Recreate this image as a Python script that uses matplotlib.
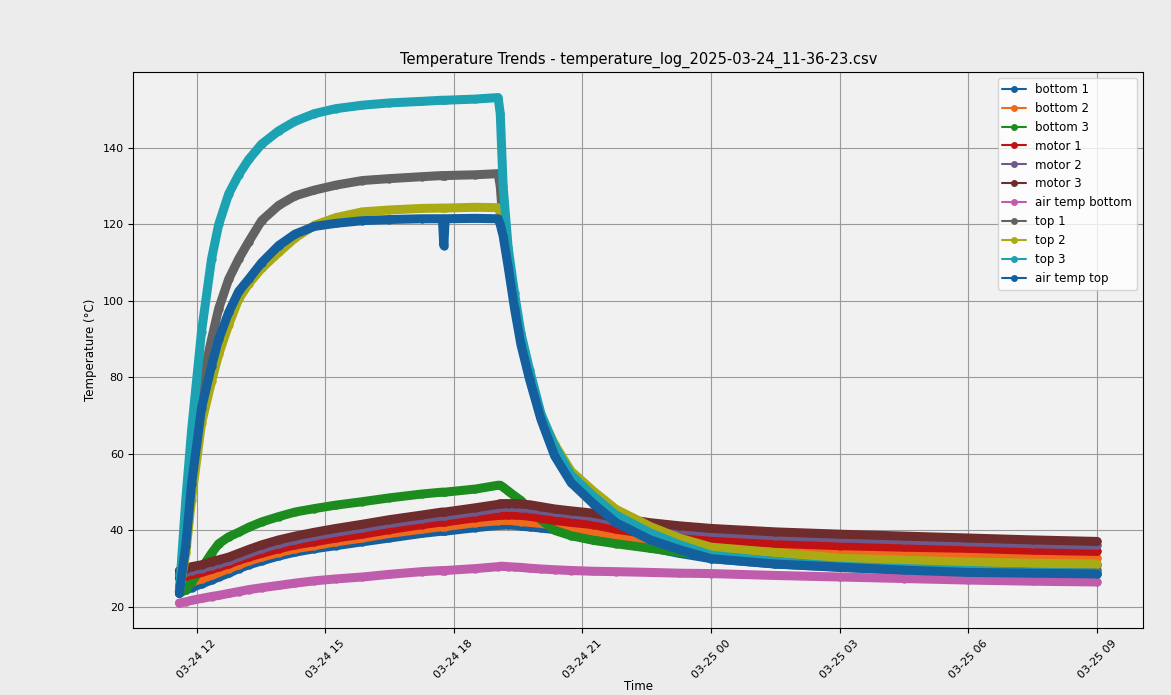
import matplotlib
matplotlib.use('Agg')
import matplotlib.pyplot as plt
import matplotlib.dates as mdates
import pandas as pd

times = ["2025-03-24 11:36", "2025-03-24 11:45", "2025-03-24 11:53", "2025-03-24 12:07",
         "2025-03-24 12:21", "2025-03-24 12:31", "2025-03-24 12:45", "2025-03-24 12:59",
         "2025-03-24 13:13", "2025-03-24 13:31", "2025-03-24 13:55", "2025-03-24 14:18",
         "2025-03-24 14:45", "2025-03-24 15:15", "2025-03-24 15:52", "2025-03-24 16:30",
         "2025-03-24 17:15", "2025-03-24 17:44", "2025-03-24 17:46", "2025-03-24 17:48",
         "2025-03-24 18:30", "2025-03-24 19:02", "2025-03-24 19:05", "2025-03-24 19:09",
         "2025-03-24 19:16", "2025-03-24 19:25", "2025-03-24 19:34", "2025-03-24 19:46",
         "2025-03-24 20:02", "2025-03-24 20:21", "2025-03-24 20:44", "2025-03-24 21:15",
         "2025-03-24 21:47", "2025-03-24 22:35", "2025-03-24 23:15", "2025-03-25 00:00",
         "2025-03-25 01:30", "2025-03-25 03:00", "2025-03-25 04:30", "2025-03-25 06:00",
         "2025-03-25 07:30", "2025-03-25 09:00"]

bottom_1 = [24.0, 24.5, 25.0, 26.0, 27.0, 27.8, 28.8, 30.0, 31.0, 32.0, 33.3,
            34.3, 35.2, 36.0, 37.0, 38.0, 39.2, 39.8, 39.8, 39.8, 40.7, 41.3,
            41.4, 41.4, 41.4, 41.3, 41.1, 40.9, 40.6, 40.2, 39.7, 39.0, 37.5, 35.5,
            34.0, 32.6, 31.2, 30.3, 29.6, 29.0, 28.8, 28.6]
bottom_2 = [25.5, 26.0, 26.5, 27.3, 28.2, 29.0, 30.0, 31.0, 32.0, 33.0, 34.2,
            35.2, 36.0, 37.0, 38.0, 39.2, 40.3, 41.0, 41.0, 41.0, 42.0, 42.5,
            42.6, 42.6, 42.6, 42.5, 42.3, 42.1, 41.8, 41.3, 40.7, 39.8, 38.8, 37.3,
            36.3, 35.5, 34.5, 34.0, 33.6, 33.3, 33.0, 32.7]
bottom_3 = [23.5, 24.5, 26.5, 30.0, 34.0, 36.5, 38.3, 39.5, 40.8, 42.2, 43.6,
            44.8, 45.7, 46.6, 47.5, 48.5, 49.5, 50.0, 50.0, 50.0, 50.8, 51.8,
            51.8, 51.3, 50.3, 49.0, 47.8, 45.5, 42.8, 40.0, 38.6, 37.4, 36.5, 35.3,
            34.3, 33.5, 32.5, 32.0, 31.7, 31.3, 31.1, 31.0]
motor_1 = [27.5, 28.0, 28.5, 29.0, 29.8, 30.4, 31.2, 32.2, 33.0, 34.0, 35.2,
           36.2, 37.0, 38.0, 39.0, 40.2, 41.5, 42.2, 42.2, 42.2, 43.3, 43.9,
           44.0, 44.0, 44.0, 44.0, 43.9, 43.7, 43.2, 42.6, 42.1, 41.5, 40.3, 39.0,
           38.2, 37.4, 36.6, 36.0, 35.6, 35.3, 34.8, 34.5]
motor_2 = [28.5, 29.0, 29.5, 30.0, 30.8, 31.3, 32.0, 33.0, 34.0, 35.2, 36.5,
           37.5, 38.5, 39.5, 40.6, 41.8, 43.0, 43.8, 43.8, 43.8, 44.9, 45.8,
           46.0, 46.0, 46.0, 46.0, 45.9, 45.7, 45.3, 44.8, 44.3, 43.6, 42.3, 41.0,
           40.2, 39.5, 38.6, 38.0, 37.5, 37.0, 36.5, 36.1]
motor_3 = [29.5, 30.0, 30.5, 31.0, 31.8, 32.3, 33.0, 34.0, 35.0, 36.2, 37.5,
           38.5, 39.5, 40.5, 41.6, 42.8, 44.0, 44.8, 44.8, 44.8, 45.9, 46.8,
           47.0, 47.0, 47.0, 47.0, 46.9, 46.7, 46.2, 45.6, 45.1, 44.5, 43.3, 42.0,
           41.2, 40.5, 39.6, 39.0, 38.5, 38.0, 37.5, 37.1]
air_temp_bottom = [21.0, 21.3, 21.7, 22.2, 22.7, 23.0, 23.5, 24.0, 24.5, 25.0, 25.6,
                   26.2, 26.8, 27.3, 27.8, 28.5, 29.2, 29.5, 29.5, 29.5, 30.0, 30.5,
                   30.6, 30.6, 30.5, 30.4, 30.3, 30.1, 29.9, 29.7, 29.5, 29.3, 29.2, 29.0,
                   28.8, 28.7, 28.2, 27.8, 27.4, 27.0, 26.7, 26.5]
top_1 = [24.0, 38.0, 55.0, 78.0, 90.0, 98.0, 105.7, 111.0, 115.5, 121.0, 125.0,
         127.5, 129.0, 130.3, 131.5, 132.0, 132.5, 132.8, 132.8, 132.8, 133.0, 133.3,
         130.0, 120.0, 110.5, 99.0, 89.5, 80.0, 69.5, 61.0, 54.0, 48.5, 43.5, 38.8,
         36.0, 33.3, 32.0, 31.0, 30.5, 30.0, 29.8, 29.6]
top_2 = [24.0, 34.0, 48.0, 68.0, 79.0, 86.0, 93.8, 100.5, 104.5, 108.5, 112.7,
         116.5, 119.8, 121.8, 123.3, 123.8, 124.2, 124.3, 124.3, 124.3, 124.5, 124.4,
         123.0, 118.0, 111.0, 99.5, 90.0, 80.5, 70.0, 62.5, 55.5, 50.3, 45.5, 41.0,
         38.0, 35.6, 34.2, 32.7, 32.2, 31.7, 31.4, 31.2]
top_3 = [24.0, 48.0, 66.0, 92.0, 111.0, 120.0, 128.0, 133.0, 137.0, 141.0, 144.5,
         147.0, 149.0, 150.3, 151.2, 151.8, 152.2, 152.5, 152.5, 152.5, 152.8, 153.2,
         149.0, 130.0, 114.0, 102.0, 91.5, 82.0, 70.5, 62.0, 54.5, 49.0, 44.0, 39.3,
         36.3, 33.5, 31.8, 30.6, 30.0, 29.5, 29.0, 28.8]
air_temp_top = [23.5, 36.0, 52.0, 72.0, 83.0, 90.0, 97.0, 102.5, 105.7, 110.0, 114.5,
                117.5, 119.5, 120.3, 121.0, 121.3, 121.5, 121.5, 114.5, 121.5, 121.6, 121.5,
                120.0, 117.0, 109.0, 98.0, 88.5, 79.5, 69.0, 59.5, 52.5, 47.0, 42.0, 37.5,
                35.0, 32.6, 31.2, 30.4, 29.6, 29.0, 28.8, 28.6]

labels = ["bottom 1", "bottom 2", "bottom 3", "motor 1", "motor 2", "motor 3",
          "air temp bottom", "top 1", "top 2", "top 3", "air temp top"]
series = [bottom_1, bottom_2, bottom_3, motor_1, motor_2, motor_3,
          air_temp_bottom, top_1, top_2, top_3, air_temp_top]
# tab10 order, a bit darker like on the photographed screen
colors = ['#14609f', '#ee6a1c', '#1c8c1e', '#c01212', '#6c5a8c', '#6e2c2c',
          '#c05cac', '#626262', '#aaab14', '#1ca2b2', '#14609f']

t = pd.to_datetime(times)

fig, ax = plt.subplots(figsize=(11.71, 6.95), dpi=100, facecolor='#ececec')
ax.set_facecolor('#f1f1f1')
plt.subplots_adjust(left=0.114, right=0.976, top=0.896, bottom=0.096)

for name, vals, c in zip(labels, series, colors):
    ax.plot(t, vals, 'o-', label=name, color=c, linewidth=6.5, markersize=6,
            markeredgewidth=0, solid_joinstyle='round', solid_capstyle='round')

ax.xaxis.set_major_locator(mdates.HourLocator(byhour=range(0, 24, 3)))
ax.xaxis.set_major_formatter(mdates.DateFormatter('%m-%d %H'))
plt.xticks(rotation=45)
ax.tick_params(labelsize=8)

ax.set_title("Temperature Trends - temperature_log_2025-03-24_11-36-23.csv", fontsize=10.5)
ax.set_xlabel("Time", fontsize=8.5, labelpad=0)
ax.set_ylabel("Temperature (°C)", fontsize=8.5)
ax.grid(True, color='#9a9a9a')

leg = ax.legend(loc='upper right', fontsize=8.5)
for h in leg.get_lines():
    h.set_linewidth(1.5)
    h.set_markersize(5)

plt.savefig("out.png", dpi=100, facecolor=fig.get_facecolor())
